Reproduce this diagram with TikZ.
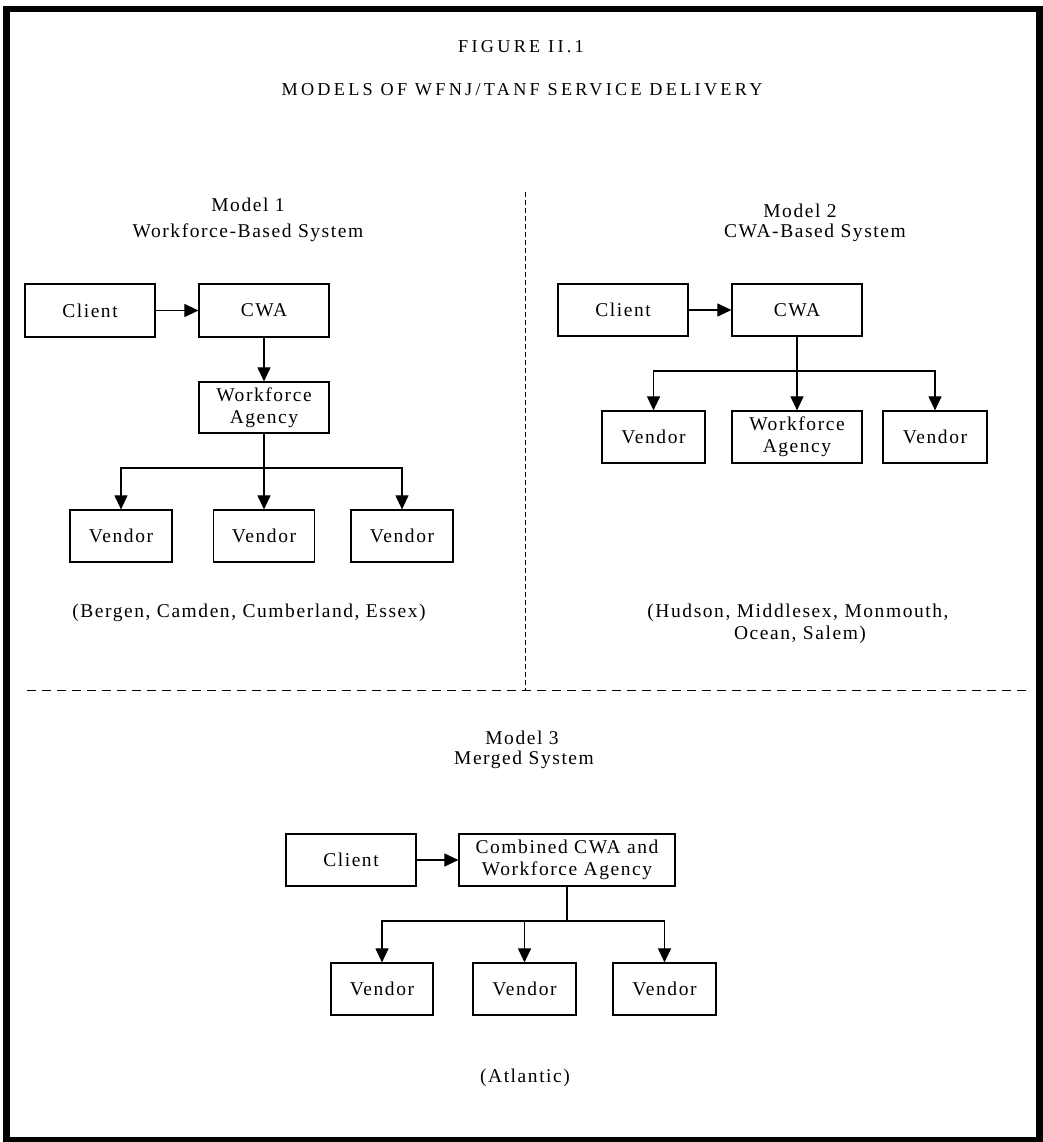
\documentclass[tikz,border=0pt]{standalone}
\usepackage{fontspec}
\setmainfont{Liberation Serif}
\newfontfamily\bodyfont[LetterSpace=8]{Liberation Serif}
\newfontfamily\titlefont[LetterSpace=18]{Liberation Serif}
\usetikzlibrary{arrows.meta}
\begin{document}
\begin{tikzpicture}[x=1pt,y=-1pt,
  box/.style={draw=black,line width=1.2pt,inner sep=0pt,align=center,
    font=\bodyfont\fontsize{19.5}{22}\selectfont},
  lbl/.style={inner sep=0pt,align=center,font=\bodyfont\fontsize{19.5}{22}\selectfont},
  ttl/.style={inner sep=0pt,font=\titlefont\fontsize{18.2}{20}\selectfont},
  link/.style={line width=1.1pt},
  arr/.style={link,-{Triangle[length=14pt,width=13pt]}},
  sepline/.style={line width=1pt,dash pattern=on 5pt off 3pt},
  sepline2/.style={line width=1pt,dash pattern=on 9pt off 6pt}]
\useasboundingbox (0,0) rectangle (1042,1142);
\draw[line width=6.5pt] (6.5,9) rectangle (1039.5,1140.5);

% titles
\node[ttl] (t1) at (521,47) {FIGURE II.1};
\node[ttl] (t2) at (522,90) {MODELS OF WFNJ/TANF SERVICE DELIVERY};

% separators
\coordinate (vs1) at (525,192);
\coordinate (vs2) at (525,690);
\coordinate (hs1) at (27,690);
\coordinate (hs2) at (1027,690);
\draw[sepline] (vs1) -- (vs2);
\draw[sepline2] (hs1) -- (hs2);

% Model 1
\node[lbl] (m1a) at (248,205) {Model 1};
\node[lbl] (m1b) at (248,233) {Workforce-Based System};
\node[box,minimum width=130pt,minimum height=53pt] (c1) at (90,310.5) {Client};
\node[box,minimum width=130pt,minimum height=53pt] (cwa1) at (264,310.5) {CWA};
\node[box,minimum width=130pt,minimum height=51pt] (wa1) at (264,407.5) {Workforce\\Agency};
\node[box,minimum width=102pt,minimum height=52pt] (v11) at (121,536) {Vendor};
\node[box,minimum width=101pt,minimum height=52pt] (v12) at (264,536) {Vendor};
\node[box,minimum width=102pt,minimum height=52pt] (v13) at (402,536) {Vendor};
\node[lbl] (r1) at (249,613) {(Bergen, Camden, Cumberland, Essex)};
\draw[arr] (c1.east) -- (cwa1.west);
\draw[arr] (cwa1.south) -- (wa1.north);
\coordinate (j1) at (264,468);
\draw[link] (wa1.south) -- (j1);
\draw[arr] (j1) -| (v11.north);
\draw[arr] (j1) -- (v12.north);
\draw[arr] (j1) -| (v13.north);

% Model 2
\node[lbl] (m2a) at (800,211) {Model 2};
\node[lbl] (m2b) at (815,233) {CWA-Based System};
\node[box,minimum width=130pt,minimum height=52pt] (c2) at (623,310) {Client};
\node[box,minimum width=130pt,minimum height=52pt] (cwa2) at (797,310) {CWA};
\node[box,minimum width=103pt,minimum height=52pt] (v21) at (653.5,437) {Vendor};
\node[box,minimum width=130pt,minimum height=52pt] (wa2) at (797,437) {Workforce\\Agency};
\node[box,minimum width=104pt,minimum height=52pt] (v22) at (935,437) {Vendor};
\node[lbl] (r2a) at (798,613) {(Hudson, Middlesex, Monmouth,};
\node[lbl] (r2b) at (800,635) {Ocean, Salem)};
\draw[arr] (c2.east) -- (cwa2.west);
\coordinate (j2) at (797,371);
\draw[link] (cwa2.south) -- (j2);
\draw[arr] (j2) -| (v21.north);
\draw[arr] (j2) -- (wa2.north);
\draw[arr] (j2) -| (v22.north);

% Model 3
\node[lbl] (m3a) at (522,738) {Model 3};
\node[lbl] (m3b) at (524,760) {Merged System};
\node[box,minimum width=130pt,minimum height=52pt] (c3) at (351,860) {Client};
\node[box,minimum width=216pt,minimum height=52pt] (comb) at (567,860) {Combined CWA and\\Workforce Agency};
\node[box,minimum width=102pt,minimum height=52pt] (v31) at (382,989) {Vendor};
\node[box,minimum width=103pt,minimum height=52pt] (v32) at (524.5,989) {Vendor};
\node[box,minimum width=103pt,minimum height=52pt] (v33) at (664.5,989) {Vendor};
\node[lbl] (r3) at (525,1078) {(Atlantic)};
\draw[arr] (c3.east) -- (comb.west);
\coordinate (j3) at (567,921);
\draw[link] (comb.south) -- (j3);
\draw[arr] (j3) -| (v31.north);
\draw[arr] (j3) -| (v32.north);
\draw[arr] (j3) -| (v33.north);
\end{tikzpicture}
\end{document}
